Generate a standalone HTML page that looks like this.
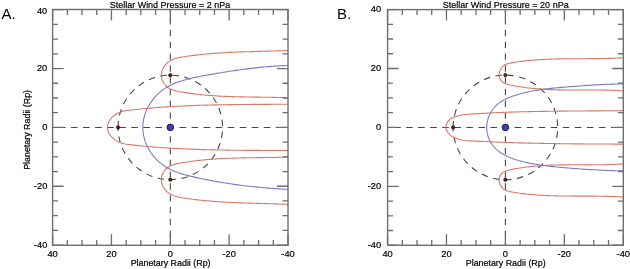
<!DOCTYPE html>
<html><head><meta charset="utf-8"><title>Stellar Wind Pressure</title>
<style>
html,body{margin:0;padding:0;background:#fff;width:630px;height:269px;overflow:hidden}
svg{display:block}
text{font-family:"Liberation Sans", Arial, Helvetica, sans-serif;fill:#000;stroke:#000;stroke-width:0.2px}
.tl{font-size:9.3px}
.ti{font-size:9.5px}
.al{font-size:8.9px}
.pl{font-size:15px;stroke:none}
.dash{stroke:#454545;stroke-width:1.1;fill:none}
.red{stroke:#da7868;stroke-width:1.1;fill:none}
.blue{stroke:#7a7cc6;stroke-width:1.1;fill:none}
.rdot{fill:#7e1015;stroke:#360808;stroke-width:0.8}
.bdot{fill:#3a41a8;stroke:#1b205e;stroke-width:1}
.tick{stroke:#6e6e6e;stroke-width:1.3;fill:none}
.frame{stroke:#6e6e6e;stroke-width:1.4;fill:none}
</style></head>
<body>
<svg width="630" height="269" viewBox="0 0 630 269">
<text x="1.5" y="19.3" class="pl">A.</text>
<text x="337.1" y="19.3" class="pl">B.</text>
<clipPath id="cA"><rect x="52.60" y="9.50" width="235.40" height="235.80"/></clipPath>
<g clip-path="url(#cA)"><line x1="52.60" y1="127.55" x2="288.00" y2="127.55" class="dash" stroke-dasharray="6.6 5.45" stroke-dashoffset="5.68"/><line x1="170.30" y1="9.50" x2="170.30" y2="245.30" class="dash" stroke-dasharray="6.3 5.5" stroke-dashoffset="3.17"/><path d="M118.07 127.40A52.23 52.23 0 1 1 222.53 127.40A52.23 52.23 0 1 1 118.07 127.40" class="dash" stroke-dasharray="6.5 5.5"/><path d="M287.99 150.55L285.61 150.54L283.24 150.53L280.86 150.52L278.48 150.51L276.11 150.50L273.73 150.49L271.35 150.48L268.97 150.47L266.59 150.46L264.22 150.45L261.84 150.43L259.46 150.42L257.08 150.41L254.70 150.40L252.32 150.38L249.93 150.37L247.55 150.35L245.17 150.33L242.79 150.31L240.41 150.29L238.03 150.27L235.65 150.24L233.26 150.21L230.88 150.18L228.50 150.15L226.12 150.11L223.74 150.07L221.35 150.03L218.97 149.99L216.59 149.94L214.21 149.89L211.83 149.83L209.45 149.77L207.07 149.71L204.68 149.65L202.30 149.58L199.92 149.50L197.54 149.42L195.16 149.34L192.79 149.25L190.41 149.16L188.03 149.06L185.65 148.96L183.27 148.85L180.89 148.73L178.52 148.61L176.14 148.49L173.77 148.36L171.39 148.22L169.02 148.08L166.64 147.93L164.27 147.77L161.90 147.61L159.52 147.44L157.15 147.26L154.78 147.08L152.41 146.89L150.04 146.69L147.68 146.48L145.31 146.27L142.94 146.05L140.58 145.82L138.21 145.58L135.85 145.34L133.49 145.09L131.12 144.82L128.76 144.55L126.41 144.23L124.09 143.79L121.80 143.17L119.56 142.34L117.39 141.32L115.30 140.12L113.35 138.66L111.59 136.96L110.07 135.05L108.86 132.98L108.00 130.79L107.54 128.54L107.54 126.26L108.00 124.01L108.86 121.82L110.07 119.75L111.59 117.84L113.35 116.14L115.30 114.68L117.39 113.48L119.56 112.46L121.80 111.63L124.09 111.01L126.41 110.57L128.76 110.25L131.12 109.98L133.49 109.71L135.85 109.46L138.21 109.22L140.58 108.98L142.94 108.75L145.31 108.53L147.68 108.32L150.04 108.11L152.41 107.91L154.78 107.72L157.15 107.54L159.52 107.36L161.90 107.19L164.27 107.03L166.64 106.87L169.02 106.72L171.39 106.58L173.77 106.44L176.14 106.31L178.52 106.19L180.89 106.07L183.27 105.95L185.65 105.84L188.03 105.74L190.41 105.64L192.79 105.55L195.16 105.46L197.54 105.38L199.92 105.30L202.30 105.22L204.68 105.15L207.07 105.09L209.45 105.03L211.83 104.97L214.21 104.91L216.59 104.86L218.97 104.81L221.35 104.77L223.74 104.73L226.12 104.69L228.50 104.65L230.88 104.62L233.26 104.59L235.65 104.56L238.03 104.53L240.41 104.51L242.79 104.49L245.17 104.47L247.55 104.45L249.93 104.43L252.32 104.42L254.70 104.40L257.08 104.39L259.46 104.38L261.84 104.37L264.22 104.35L266.59 104.34L268.97 104.33L271.35 104.32L273.73 104.31L276.11 104.30L278.48 104.29L280.86 104.28L283.24 104.27L285.61 104.26L287.99 104.25" class="red"/><path d="M288.06 97.72L286.33 97.66L284.60 97.61L282.87 97.56L281.14 97.52L279.42 97.48L277.69 97.44L275.97 97.40L274.25 97.37L272.53 97.34L270.81 97.31L269.10 97.29L267.38 97.26L265.67 97.24L263.96 97.21L262.24 97.19L260.53 97.17L258.82 97.15L257.12 97.13L255.41 97.11L253.70 97.08L251.99 97.06L250.29 97.03L248.58 97.01L246.88 96.98L245.18 96.95L243.47 96.92L241.77 96.88L240.07 96.85L238.37 96.81L236.66 96.76L234.96 96.72L233.26 96.66L231.56 96.61L229.86 96.55L228.16 96.49L226.46 96.42L224.76 96.34L223.05 96.26L221.35 96.18L219.65 96.09L217.95 95.99L216.25 95.89L214.54 95.78L212.84 95.66L211.14 95.53L209.43 95.40L207.73 95.26L206.02 95.11L204.31 94.96L202.61 94.79L200.90 94.62L199.19 94.44L197.48 94.25L195.77 94.04L194.06 93.83L192.34 93.61L190.63 93.38L188.91 93.13L187.19 92.88L185.48 92.62L183.76 92.34L182.03 92.05L180.31 91.75L178.60 91.43L176.89 91.07L175.22 90.66L173.58 90.19L172.00 89.63L170.47 88.98L169.02 88.22L167.65 87.33L166.38 86.30L165.21 85.12L164.16 83.79L163.25 82.35L162.50 80.80L161.92 79.19L161.52 77.52L161.33 75.82L161.36 74.12L161.60 72.44L162.05 70.78L162.67 69.17L163.46 67.62L164.40 66.15L165.47 64.77L166.66 63.50L167.94 62.35L169.30 61.34L170.74 60.47L172.23 59.73L173.78 59.09L175.38 58.55L177.01 58.09L178.68 57.70L180.37 57.36L182.07 57.07L183.79 56.79L185.50 56.53L187.21 56.28L188.92 56.04L190.63 55.81L192.35 55.58L194.06 55.37L195.76 55.16L197.47 54.96L199.18 54.77L200.89 54.58L202.60 54.41L204.30 54.24L206.01 54.07L207.72 53.92L209.42 53.77L211.13 53.63L212.83 53.49L214.54 53.36L216.24 53.23L217.95 53.11L219.65 53.00L221.36 52.89L223.06 52.79L224.76 52.69L226.47 52.59L228.17 52.50L229.88 52.42L231.58 52.33L233.28 52.25L234.99 52.18L236.69 52.11L238.40 52.04L240.10 51.97L241.81 51.91L243.51 51.85L245.22 51.79L246.92 51.74L248.63 51.68L250.33 51.63L252.04 51.58L253.75 51.53L255.46 51.48L257.16 51.43L258.87 51.39L260.58 51.34L262.29 51.29L264.00 51.25L265.71 51.20L267.43 51.15L269.14 51.11L270.85 51.06L272.57 51.01L274.28 50.96L276.00 50.91L277.71 50.86L279.43 50.80L281.15 50.74L282.87 50.69L284.59 50.62L286.31 50.56L288.03 50.49" class="red"/><path d="M288.06 157.08L286.33 157.14L284.60 157.19L282.87 157.24L281.14 157.28L279.42 157.32L277.69 157.36L275.97 157.40L274.25 157.43L272.53 157.46L270.81 157.49L269.10 157.51L267.38 157.54L265.67 157.56L263.96 157.59L262.24 157.61L260.53 157.63L258.82 157.65L257.12 157.67L255.41 157.69L253.70 157.72L251.99 157.74L250.29 157.77L248.58 157.79L246.88 157.82L245.18 157.85L243.47 157.88L241.77 157.92L240.07 157.95L238.37 157.99L236.66 158.04L234.96 158.08L233.26 158.14L231.56 158.19L229.86 158.25L228.16 158.31L226.46 158.38L224.76 158.46L223.05 158.54L221.35 158.62L219.65 158.71L217.95 158.81L216.25 158.91L214.54 159.02L212.84 159.14L211.14 159.27L209.43 159.40L207.73 159.54L206.02 159.69L204.31 159.84L202.61 160.01L200.90 160.18L199.19 160.36L197.48 160.55L195.77 160.76L194.06 160.97L192.34 161.19L190.63 161.42L188.91 161.67L187.19 161.92L185.48 162.18L183.76 162.46L182.03 162.75L180.31 163.05L178.60 163.37L176.89 163.73L175.22 164.14L173.58 164.61L172.00 165.17L170.47 165.82L169.02 166.58L167.65 167.47L166.38 168.50L165.21 169.68L164.16 171.01L163.25 172.45L162.50 174.00L161.92 175.61L161.52 177.28L161.33 178.98L161.36 180.68L161.60 182.36L162.05 184.02L162.67 185.63L163.46 187.18L164.40 188.65L165.47 190.03L166.66 191.30L167.94 192.45L169.30 193.46L170.74 194.33L172.23 195.07L173.78 195.71L175.38 196.25L177.01 196.71L178.68 197.10L180.37 197.44L182.07 197.73L183.79 198.01L185.50 198.27L187.21 198.52L188.92 198.76L190.63 198.99L192.35 199.22L194.06 199.43L195.76 199.64L197.47 199.84L199.18 200.03L200.89 200.22L202.60 200.39L204.30 200.56L206.01 200.73L207.72 200.88L209.42 201.03L211.13 201.17L212.83 201.31L214.54 201.44L216.24 201.57L217.95 201.69L219.65 201.80L221.36 201.91L223.06 202.01L224.76 202.11L226.47 202.21L228.17 202.30L229.88 202.38L231.58 202.47L233.28 202.55L234.99 202.62L236.69 202.69L238.40 202.76L240.10 202.83L241.81 202.89L243.51 202.95L245.22 203.01L246.92 203.06L248.63 203.12L250.33 203.17L252.04 203.22L253.75 203.27L255.46 203.32L257.16 203.37L258.87 203.41L260.58 203.46L262.29 203.51L264.00 203.55L265.71 203.60L267.43 203.65L269.14 203.69L270.85 203.74L272.57 203.79L274.28 203.84L276.00 203.89L277.71 203.94L279.43 204.00L281.15 204.06L282.87 204.11L284.59 204.18L286.31 204.24L288.03 204.31" class="red"/><path d="M288.04 189.41L285.84 189.28L283.65 189.15L281.47 189.02L279.28 188.88L277.11 188.73L274.93 188.58L272.76 188.42L270.59 188.25L268.42 188.08L266.26 187.90L264.10 187.72L261.94 187.52L259.79 187.32L257.64 187.12L255.49 186.90L253.34 186.68L251.19 186.45L249.04 186.21L246.90 185.97L244.76 185.72L242.62 185.45L240.48 185.19L238.34 184.91L236.20 184.62L234.06 184.33L231.92 184.02L229.79 183.71L227.65 183.39L225.51 183.06L223.38 182.72L221.24 182.37L219.10 182.01L216.96 181.64L214.82 181.26L212.68 180.87L210.54 180.47L208.40 180.06L206.26 179.64L204.11 179.20L201.97 178.76L199.82 178.31L197.67 177.85L195.51 177.37L193.36 176.88L191.21 176.38L189.06 175.85L186.92 175.30L184.80 174.72L182.69 174.11L180.59 173.46L178.52 172.76L176.48 172.02L174.46 171.23L172.47 170.38L170.52 169.47L168.61 168.50L166.74 167.46L164.92 166.34L163.14 165.15L161.41 163.88L159.74 162.53L158.13 161.09L156.58 159.57L155.09 157.98L153.67 156.32L152.32 154.59L151.05 152.81L149.86 150.96L148.74 149.07L147.72 147.14L146.77 145.16L145.93 143.14L145.17 141.10L144.51 139.02L143.96 136.93L143.51 134.81L143.16 132.69L142.93 130.55L142.81 128.41L142.81 126.28L142.93 124.15L143.16 122.02L143.50 119.91L143.95 117.82L144.51 115.74L145.16 113.69L145.92 111.67L146.77 109.68L147.71 107.73L148.74 105.81L149.85 103.94L151.04 102.11L152.32 100.34L153.67 98.62L155.09 96.95L156.57 95.35L158.13 93.81L159.74 92.35L161.42 90.95L163.15 89.63L164.93 88.40L166.76 87.24L168.63 86.17L170.55 85.17L172.51 84.24L174.50 83.38L176.52 82.59L178.56 81.84L180.64 81.15L182.73 80.51L184.84 79.91L186.96 79.34L189.09 78.81L191.23 78.30L193.36 77.82L195.50 77.36L197.65 76.91L199.79 76.48L201.93 76.07L204.07 75.66L206.22 75.27L208.36 74.89L210.50 74.51L212.64 74.14L214.78 73.77L216.92 73.40L219.06 73.04L221.20 72.69L223.34 72.33L225.48 71.99L227.62 71.65L229.76 71.31L231.90 70.98L234.04 70.66L236.19 70.34L238.33 70.03L240.47 69.73L242.61 69.43L244.76 69.14L246.90 68.87L249.05 68.59L251.20 68.33L253.35 68.08L255.50 67.83L257.65 67.60L259.81 67.37L261.96 67.16L264.12 66.95L266.28 66.76L268.44 66.58L270.61 66.41L272.78 66.25L274.95 66.10L277.12 65.96L279.29 65.84L281.47 65.73L283.65 65.63L285.84 65.55L288.02 65.48" class="blue"/><circle cx="118.07" cy="127.40" r="1.65" class="rdot"/><circle cx="170.30" cy="75.17" r="1.65" class="rdot"/><circle cx="170.30" cy="179.63" r="1.65" class="rdot"/><circle cx="170.30" cy="127.40" r="3.3" class="bdot"/></g>
<path d="M288.00 9.50v11.00M288.00 245.30v-11.00M52.60 245.10h11.00M288.00 245.10h-11.00M273.29 9.50v5.40M273.29 245.30v-5.40M52.60 230.39h5.40M288.00 230.39h-5.40M258.57 9.50v5.40M258.57 245.30v-5.40M52.60 215.68h5.40M288.00 215.68h-5.40M243.86 9.50v5.40M243.86 245.30v-5.40M52.60 200.96h5.40M288.00 200.96h-5.40M229.15 9.50v11.00M229.15 245.30v-11.00M52.60 186.25h11.00M288.00 186.25h-11.00M214.44 9.50v5.40M214.44 245.30v-5.40M52.60 171.54h5.40M288.00 171.54h-5.40M199.73 9.50v5.40M199.73 245.30v-5.40M52.60 156.82h5.40M288.00 156.82h-5.40M185.01 9.50v5.40M185.01 245.30v-5.40M52.60 142.11h5.40M288.00 142.11h-5.40M170.30 9.50v11.00M170.30 245.30v-11.00M52.60 127.40h11.00M288.00 127.40h-11.00M155.59 9.50v5.40M155.59 245.30v-5.40M52.60 112.69h5.40M288.00 112.69h-5.40M140.88 9.50v5.40M140.88 245.30v-5.40M52.60 97.98h5.40M288.00 97.98h-5.40M126.16 9.50v5.40M126.16 245.30v-5.40M52.60 83.26h5.40M288.00 83.26h-5.40M111.45 9.50v11.00M111.45 245.30v-11.00M52.60 68.55h11.00M288.00 68.55h-11.00M96.74 9.50v5.40M96.74 245.30v-5.40M52.60 53.84h5.40M288.00 53.84h-5.40M82.03 9.50v5.40M82.03 245.30v-5.40M52.60 39.13h5.40M288.00 39.13h-5.40M67.31 9.50v5.40M67.31 245.30v-5.40M52.60 24.41h5.40M288.00 24.41h-5.40M52.60 9.50v11.00M52.60 245.30v-11.00M52.60 9.70h11.00M288.00 9.70h-11.00" class="tick"/>
<rect x="52.60" y="9.50" width="235.40" height="235.80" class="frame"/>
<text x="52.60" y="257.4" text-anchor="middle" class="tl">40</text><text x="47.30" y="14.30" text-anchor="end" class="tl">40</text><text x="111.45" y="257.4" text-anchor="middle" class="tl">20</text><text x="47.30" y="71.15" text-anchor="end" class="tl">20</text><text x="170.30" y="257.4" text-anchor="middle" class="tl">0</text><text x="47.30" y="130.00" text-anchor="end" class="tl">0</text><text x="229.15" y="257.4" text-anchor="middle" class="tl">-20</text><text x="47.30" y="188.85" text-anchor="end" class="tl">-20</text><text x="288.00" y="257.4" text-anchor="middle" class="tl">-40</text><text x="47.30" y="247.70" text-anchor="end" class="tl">-40</text>
<text x="109.70" y="7.6" class="ti" textLength="120.6" lengthAdjust="spacingAndGlyphs">Stellar Wind Pressure = 2 nPa</text>
<text x="170.60" y="266.2" text-anchor="middle" class="al">Planetary Radii (Rp)</text>
<text x="0" y="0" text-anchor="middle" class="al" transform="translate(30.1 129.9) rotate(-90)">Planetary Radii (Rp)</text>
<clipPath id="cB"><rect x="387.60" y="9.60" width="235.70" height="235.70"/></clipPath>
<g clip-path="url(#cB)"><line x1="387.60" y1="127.55" x2="623.30" y2="127.55" class="dash" stroke-dasharray="6.6 5.45" stroke-dashoffset="5.58"/><line x1="505.40" y1="9.60" x2="505.40" y2="245.30" class="dash" stroke-dasharray="6.3 5.5" stroke-dashoffset="3.27"/><path d="M453.10 127.40A52.30 52.30 0 1 1 557.70 127.40A52.30 52.30 0 1 1 453.10 127.40" class="dash" stroke-dasharray="6.5 5.5"/><path d="M623.36 144.11L621.03 144.11L618.69 144.10L616.37 144.10L614.04 144.09L611.72 144.08L609.39 144.07L607.07 144.06L604.75 144.05L602.44 144.04L600.12 144.03L597.81 144.02L595.50 144.01L593.18 143.99L590.87 143.98L588.57 143.97L586.26 143.95L583.95 143.93L581.65 143.91L579.34 143.89L577.04 143.87L574.74 143.85L572.43 143.83L570.13 143.80L567.83 143.78L565.53 143.75L563.23 143.72L560.93 143.69L558.63 143.66L556.34 143.63L554.04 143.59L551.74 143.55L549.44 143.52L547.14 143.48L544.84 143.43L542.55 143.39L540.25 143.34L537.95 143.30L535.65 143.25L533.35 143.19L531.05 143.14L528.75 143.08L526.44 143.03L524.14 142.97L521.84 142.90L519.54 142.84L517.23 142.77L514.92 142.70L512.62 142.63L510.31 142.55L508.00 142.48L505.69 142.40L503.38 142.31L501.06 142.23L498.75 142.14L496.43 142.05L494.11 141.95L491.79 141.86L489.47 141.76L487.15 141.66L484.82 141.55L482.50 141.44L480.17 141.33L477.83 141.22L475.50 141.10L473.16 140.98L470.83 140.85L468.49 140.71L466.17 140.53L463.87 140.28L461.61 139.93L459.40 139.47L457.25 138.85L455.17 138.07L453.17 137.08L451.26 135.87L449.47 134.40L447.92 132.71L446.73 130.79L446.04 128.69L445.98 126.42L446.55 124.09L447.65 121.92L449.14 120.09L450.93 118.66L452.95 117.54L455.11 116.67L457.32 115.99L459.56 115.44L461.82 115.02L464.10 114.69L466.39 114.43L468.69 114.23L470.99 114.07L473.29 113.92L475.60 113.77L477.90 113.63L480.21 113.50L482.51 113.37L484.82 113.25L487.12 113.13L489.43 113.01L491.74 112.90L494.04 112.79L496.35 112.69L498.65 112.59L500.96 112.50L503.27 112.41L505.57 112.32L507.88 112.24L510.19 112.16L512.50 112.08L514.80 112.01L517.11 111.94L519.42 111.88L521.72 111.81L524.03 111.75L526.34 111.70L528.65 111.64L530.96 111.59L533.26 111.54L535.57 111.50L537.88 111.46L540.19 111.41L542.50 111.38L544.81 111.34L547.11 111.30L549.42 111.27L551.73 111.24L554.04 111.21L556.35 111.18L558.66 111.16L560.97 111.13L563.27 111.11L565.58 111.09L567.89 111.07L570.20 111.05L572.51 111.03L574.82 111.01L577.13 110.99L579.44 110.97L581.74 110.96L584.05 110.94L586.36 110.93L588.67 110.91L590.98 110.90L593.29 110.88L595.60 110.87L597.91 110.85L600.22 110.84L602.52 110.82L604.83 110.80L607.14 110.79L609.45 110.77L611.76 110.75L614.07 110.73L616.37 110.71L618.68 110.69L620.99 110.67L623.30 110.64" class="red"/><path d="M623.33 90.92L621.67 90.81L620.02 90.70L618.36 90.61L616.71 90.52L615.06 90.45L613.41 90.37L611.76 90.31L610.11 90.25L608.46 90.20L606.82 90.16L605.17 90.12L603.53 90.09L601.88 90.06L600.24 90.04L598.60 90.02L596.96 90.00L595.32 89.99L593.68 89.98L592.04 89.98L590.40 89.97L588.76 89.97L587.12 89.97L585.48 89.97L583.85 89.97L582.21 89.98L580.57 89.98L578.94 89.98L577.30 89.98L575.66 89.99L574.03 89.98L572.39 89.98L570.76 89.98L569.12 89.97L567.49 89.96L565.85 89.95L564.22 89.94L562.58 89.92L560.95 89.89L559.31 89.86L557.68 89.83L556.04 89.79L554.41 89.74L552.77 89.69L551.13 89.64L549.50 89.57L547.86 89.50L546.22 89.42L544.58 89.33L542.95 89.24L541.31 89.13L539.67 89.02L538.03 88.89L536.39 88.76L534.74 88.62L533.10 88.46L531.46 88.30L529.81 88.12L528.17 87.94L526.52 87.74L524.88 87.52L523.23 87.30L521.58 87.06L519.93 86.81L518.28 86.54L516.63 86.26L514.98 85.97L513.32 85.66L511.67 85.33L510.01 84.99L508.38 84.60L506.80 84.15L505.29 83.61L503.89 82.94L502.63 82.11L501.52 81.10L500.61 79.89L499.91 78.49L499.44 76.96L499.21 75.35L499.25 73.69L499.54 72.05L500.06 70.44L500.80 68.93L501.72 67.56L502.82 66.35L504.07 65.36L505.44 64.59L506.92 63.99L508.48 63.53L510.09 63.17L511.72 62.87L513.37 62.58L515.01 62.31L516.65 62.06L518.29 61.81L519.94 61.58L521.58 61.36L523.22 61.15L524.86 60.96L526.50 60.77L528.14 60.60L529.78 60.43L531.42 60.28L533.06 60.13L534.70 60.00L536.34 59.87L537.98 59.75L539.62 59.64L541.26 59.54L542.90 59.45L544.54 59.36L546.18 59.28L547.81 59.21L549.45 59.15L551.09 59.09L552.73 59.03L554.37 58.98L556.01 58.94L557.65 58.90L559.28 58.87L560.92 58.84L562.56 58.81L564.20 58.79L565.84 58.77L567.48 58.76L569.12 58.75L570.76 58.73L572.40 58.73L574.03 58.72L575.67 58.71L577.31 58.71L578.95 58.70L580.59 58.70L582.23 58.70L583.87 58.69L585.51 58.69L587.15 58.68L588.79 58.68L590.43 58.67L592.07 58.66L593.72 58.65L595.36 58.63L597.00 58.61L598.64 58.59L600.28 58.57L601.93 58.54L603.57 58.51L605.21 58.47L606.86 58.43L608.50 58.38L610.14 58.33L611.79 58.27L613.43 58.21L615.08 58.14L616.72 58.06L618.37 57.98L620.02 57.89L621.66 57.79L623.31 57.68" class="red"/><path d="M623.33 163.88L621.67 163.99L620.02 164.10L618.36 164.19L616.71 164.28L615.06 164.35L613.41 164.43L611.76 164.49L610.11 164.55L608.46 164.60L606.82 164.64L605.17 164.68L603.53 164.71L601.88 164.74L600.24 164.76L598.60 164.78L596.96 164.80L595.32 164.81L593.68 164.82L592.04 164.82L590.40 164.83L588.76 164.83L587.12 164.83L585.48 164.83L583.85 164.83L582.21 164.82L580.57 164.82L578.94 164.82L577.30 164.82L575.66 164.81L574.03 164.82L572.39 164.82L570.76 164.82L569.12 164.83L567.49 164.84L565.85 164.85L564.22 164.86L562.58 164.88L560.95 164.91L559.31 164.94L557.68 164.97L556.04 165.01L554.41 165.06L552.77 165.11L551.13 165.16L549.50 165.23L547.86 165.30L546.22 165.38L544.58 165.47L542.95 165.56L541.31 165.67L539.67 165.78L538.03 165.91L536.39 166.04L534.74 166.18L533.10 166.34L531.46 166.50L529.81 166.68L528.17 166.86L526.52 167.06L524.88 167.28L523.23 167.50L521.58 167.74L519.93 167.99L518.28 168.26L516.63 168.54L514.98 168.83L513.32 169.14L511.67 169.47L510.01 169.81L508.38 170.20L506.80 170.65L505.29 171.19L503.89 171.86L502.63 172.69L501.52 173.70L500.61 174.91L499.91 176.31L499.44 177.84L499.21 179.45L499.25 181.11L499.54 182.75L500.06 184.36L500.80 185.87L501.72 187.24L502.82 188.45L504.07 189.44L505.44 190.21L506.92 190.81L508.48 191.27L510.09 191.63L511.72 191.93L513.37 192.22L515.01 192.49L516.65 192.74L518.29 192.99L519.94 193.22L521.58 193.44L523.22 193.65L524.86 193.84L526.50 194.03L528.14 194.20L529.78 194.37L531.42 194.52L533.06 194.67L534.70 194.80L536.34 194.93L537.98 195.05L539.62 195.16L541.26 195.26L542.90 195.35L544.54 195.44L546.18 195.52L547.81 195.59L549.45 195.65L551.09 195.71L552.73 195.77L554.37 195.82L556.01 195.86L557.65 195.90L559.28 195.93L560.92 195.96L562.56 195.99L564.20 196.01L565.84 196.03L567.48 196.04L569.12 196.05L570.76 196.07L572.40 196.07L574.03 196.08L575.67 196.09L577.31 196.09L578.95 196.10L580.59 196.10L582.23 196.10L583.87 196.11L585.51 196.11L587.15 196.12L588.79 196.12L590.43 196.13L592.07 196.14L593.72 196.15L595.36 196.17L597.00 196.19L598.64 196.21L600.28 196.23L601.93 196.26L603.57 196.29L605.21 196.33L606.86 196.37L608.50 196.42L610.14 196.47L611.79 196.53L613.43 196.59L615.08 196.66L616.72 196.74L618.37 196.82L620.02 196.91L621.66 197.01L623.31 197.12" class="red"/><path d="M623.29 170.89L621.35 170.85L619.40 170.81L617.45 170.76L615.50 170.71L613.55 170.65L611.60 170.59L609.65 170.52L607.70 170.45L605.75 170.37L603.80 170.29L601.85 170.21L599.89 170.11L597.94 170.02L595.99 169.92L594.04 169.81L592.09 169.71L590.14 169.59L588.19 169.47L586.24 169.35L584.29 169.22L582.34 169.09L580.39 168.96L578.44 168.82L576.49 168.67L574.54 168.52L572.60 168.37L570.65 168.21L568.70 168.05L566.76 167.88L564.82 167.72L562.87 167.54L560.93 167.36L558.99 167.18L557.05 166.99L555.11 166.80L553.17 166.60L551.24 166.40L549.30 166.18L547.37 165.95L545.44 165.71L543.51 165.46L541.58 165.20L539.65 164.92L537.73 164.63L535.81 164.31L533.89 163.99L531.97 163.64L530.06 163.27L528.14 162.88L526.23 162.46L524.33 162.03L522.42 161.56L520.52 161.08L518.62 160.56L516.74 160.00L514.86 159.41L513.00 158.78L511.16 158.09L509.34 157.35L507.55 156.55L505.79 155.69L504.06 154.76L502.36 153.76L500.72 152.69L499.13 151.55L497.60 150.34L496.14 149.05L494.76 147.70L493.47 146.26L492.27 144.75L491.18 143.17L490.19 141.51L489.33 139.77L488.58 137.97L487.96 136.12L487.46 134.22L487.09 132.29L486.84 130.34L486.72 128.38L486.73 126.41L486.87 124.46L487.14 122.52L487.53 120.61L488.05 118.73L488.67 116.88L489.42 115.08L490.27 113.33L491.23 111.64L492.29 110.02L493.45 108.47L494.71 107.00L496.06 105.62L497.50 104.33L499.03 103.13L500.62 102.01L502.27 100.97L503.98 100.00L505.73 99.09L507.52 98.25L509.34 97.47L511.18 96.75L513.03 96.07L514.90 95.44L516.77 94.85L518.66 94.30L520.55 93.77L522.45 93.28L524.35 92.82L526.25 92.37L528.16 91.95L530.07 91.55L531.98 91.18L533.90 90.82L535.82 90.48L537.74 90.16L539.66 89.86L541.58 89.57L543.51 89.30L545.44 89.05L547.37 88.80L549.30 88.58L551.24 88.36L553.17 88.15L555.11 87.96L557.05 87.77L558.99 87.59L560.93 87.42L562.87 87.26L564.82 87.10L566.76 86.95L568.71 86.80L570.65 86.65L572.60 86.51L574.55 86.37L576.49 86.22L578.44 86.08L580.39 85.94L582.34 85.80L584.29 85.66L586.24 85.52L588.19 85.38L590.14 85.25L592.09 85.12L594.04 85.00L595.99 84.88L597.94 84.76L599.89 84.65L601.84 84.55L603.79 84.45L605.74 84.36L607.69 84.28L609.64 84.20L611.59 84.14L613.55 84.08L615.50 84.03L617.45 84.00L619.40 83.97L621.35 83.96L623.30 83.96" class="blue"/><circle cx="453.10" cy="127.40" r="1.65" class="rdot"/><circle cx="505.40" cy="75.10" r="1.65" class="rdot"/><circle cx="505.40" cy="179.70" r="1.65" class="rdot"/><circle cx="505.40" cy="127.40" r="3.3" class="bdot"/></g>
<path d="M623.25 9.60v11.00M623.25 245.30v-11.00M387.60 245.25h11.00M623.30 245.25h-11.00M608.52 9.60v5.40M608.52 245.30v-5.40M387.60 230.52h5.40M623.30 230.52h-5.40M593.79 9.60v5.40M593.79 245.30v-5.40M387.60 215.79h5.40M623.30 215.79h-5.40M579.06 9.60v5.40M579.06 245.30v-5.40M387.60 201.06h5.40M623.30 201.06h-5.40M564.32 9.60v11.00M564.32 245.30v-11.00M387.60 186.32h11.00M623.30 186.32h-11.00M549.59 9.60v5.40M549.59 245.30v-5.40M387.60 171.59h5.40M623.30 171.59h-5.40M534.86 9.60v5.40M534.86 245.30v-5.40M387.60 156.86h5.40M623.30 156.86h-5.40M520.13 9.60v5.40M520.13 245.30v-5.40M387.60 142.13h5.40M623.30 142.13h-5.40M505.40 9.60v11.00M505.40 245.30v-11.00M387.60 127.40h11.00M623.30 127.40h-11.00M490.67 9.60v5.40M490.67 245.30v-5.40M387.60 112.67h5.40M623.30 112.67h-5.40M475.94 9.60v5.40M475.94 245.30v-5.40M387.60 97.94h5.40M623.30 97.94h-5.40M461.21 9.60v5.40M461.21 245.30v-5.40M387.60 83.21h5.40M623.30 83.21h-5.40M446.48 9.60v11.00M446.48 245.30v-11.00M387.60 68.48h11.00M623.30 68.48h-11.00M431.74 9.60v5.40M431.74 245.30v-5.40M387.60 53.74h5.40M623.30 53.74h-5.40M417.01 9.60v5.40M417.01 245.30v-5.40M387.60 39.01h5.40M623.30 39.01h-5.40M402.28 9.60v5.40M402.28 245.30v-5.40M387.60 24.28h5.40M623.30 24.28h-5.40M387.55 9.60v11.00M387.55 245.30v-11.00M387.60 9.55h11.00M623.30 9.55h-11.00" class="tick"/>
<rect x="387.60" y="9.60" width="235.70" height="235.70" class="frame"/>
<text x="387.55" y="257.4" text-anchor="middle" class="tl">40</text><text x="381.10" y="12.10" text-anchor="end" class="tl">40</text><text x="446.48" y="257.4" text-anchor="middle" class="tl">20</text><text x="381.10" y="71.08" text-anchor="end" class="tl">20</text><text x="505.40" y="257.4" text-anchor="middle" class="tl">0</text><text x="381.10" y="130.00" text-anchor="end" class="tl">0</text><text x="564.32" y="257.4" text-anchor="middle" class="tl">-20</text><text x="381.10" y="188.92" text-anchor="end" class="tl">-20</text><text x="623.25" y="257.4" text-anchor="middle" class="tl">-40</text><text x="381.10" y="247.85" text-anchor="end" class="tl">-40</text>
<text x="442.70" y="7.6" class="ti" textLength="126.0" lengthAdjust="spacingAndGlyphs">Stellar Wind Pressure = 20 nPa</text>
<text x="505.70" y="266.2" text-anchor="middle" class="al">Planetary Radii (Rp)</text>
</svg>
</body></html>
